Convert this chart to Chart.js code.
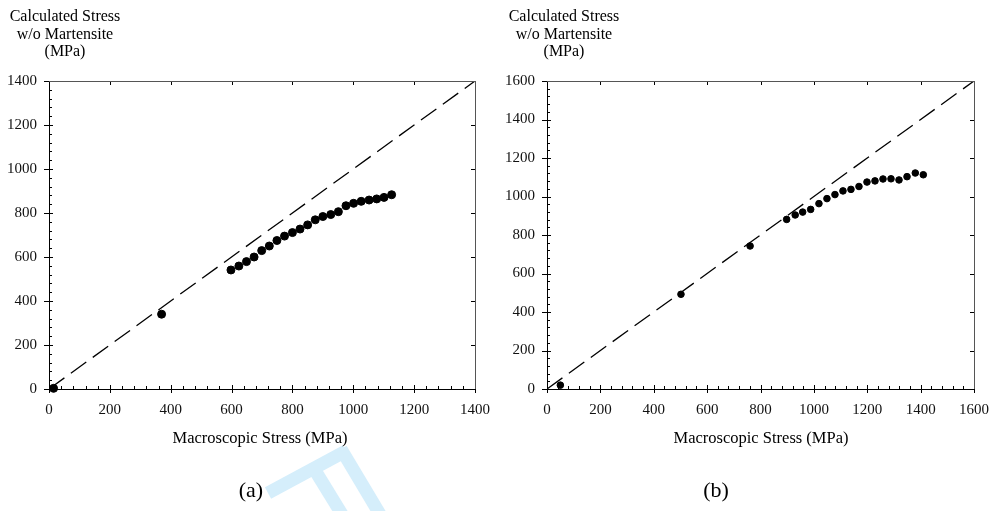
<!DOCTYPE html>
<html>
<head>
<meta charset="utf-8">
<script src="https://cdn.jsdelivr.net/npm/chart.js@4/dist/chart.umd.min.js"></script>
<style>
  body { margin: 0; background: #fff; }
  #wrap { position: relative; width: 989px; height: 511px; overflow: hidden; font-family: 'Liberation Serif', 'Times New Roman', serif; color: #000; }
  canvas { position: absolute; top: 0; }
  .ytitle { position: absolute; top: 7px; width: 130px; text-align: center; font-size: 16px; line-height: 17.5px; }
  .xtitle { position: absolute; top: 428px; width: 240px; text-align: center; font-size: 16.5px; }
  .panel { position: absolute; top: 477px; width: 60px; text-align: center; font-size: 22px; }
  #mark { position: absolute; left: 0; top: 0; }
</style>
</head>
<body>
<div id="wrap">
  <svg id="mark" width="989" height="511">
    <g stroke="#d5eefb" stroke-width="13" fill="none">
      <line x1="268" y1="493" x2="346" y2="451" />
      <line x1="341" y1="449" x2="381" y2="516" />
      <line x1="316" y1="472" x2="343" y2="516" />
    </g>
  </svg>
  <canvas id="chartA" width="494" height="511" style="left:0"></canvas>
  <canvas id="chartB" width="495" height="511" style="left:494px"></canvas>
  <div class="ytitle" style="left:0">Calculated Stress<br>w/o Martensite<br>(MPa)</div>
  <div class="ytitle" style="left:499px">Calculated Stress<br>w/o Martensite<br>(MPa)</div>
  <div class="xtitle" style="left:140px">Macroscopic Stress (MPa)</div>
  <div class="xtitle" style="left:641px">Macroscopic Stress (MPa)</div>
  <div class="panel" style="left:221px">(a)</div>
  <div class="panel" style="left:686px">(b)</div>
</div>
<script>
// panel (a)
const macroA = [15, 370, 598, 624, 649, 674, 699, 724, 749, 774, 800, 825, 850, 875, 900, 926, 951, 976, 1001, 1026, 1052, 1077, 1101, 1126];
const calcA  = [3, 340, 541, 559, 579, 600, 629, 650, 675, 695, 711, 727, 746, 769, 784, 793, 806, 833, 844, 853, 859, 864, 871, 883];
const ticksA = [0, 200, 400, 600, 800, 1000, 1200, 1400];

// panel (b)
const macroB = [50, 502, 761, 898, 930, 958, 988, 1019, 1049, 1079, 1109, 1139, 1169, 1199, 1229, 1259, 1289, 1319, 1349, 1380, 1410];
const calcB  = [20, 492, 743, 881, 904, 919, 933, 963, 989, 1010, 1029, 1037, 1052, 1075, 1081, 1091, 1092, 1086, 1103, 1122, 1113];
const ticksB = [0, 200, 400, 600, 800, 1000, 1200, 1400, 1600];

const MINOR_STEP = 40;

// inward minor ticks, crossing major ticks on left/bottom, inward majors on top/right
const axisTicks = {
    id: 'axisTicks',
    afterDraw(chart) {
        const { ctx, chartArea: a, scales: { x, y } } = chart;
        const major = chart.options.plugins.axisTicks.major;
        ctx.save();
        ctx.strokeStyle = '#000';
        ctx.lineWidth = 1;
        ctx.beginPath();
        for (let v = x.min; v <= x.max; v += MINOR_STEP) {
            const px = Math.round(x.getPixelForValue(v)) + 0.5;
            if (major.includes(v)) {
                ctx.moveTo(px, a.bottom + 4);
                ctx.lineTo(px, a.bottom - 4);
                ctx.moveTo(px, a.top);
                ctx.lineTo(px, a.top + 4);
            } else {
                ctx.moveTo(px, a.bottom);
                ctx.lineTo(px, a.bottom - 3);
            }
        }
        for (let v = y.min; v <= y.max; v += MINOR_STEP) {
            const py = Math.round(y.getPixelForValue(v)) + 0.5;
            if (major.includes(v)) {
                ctx.moveTo(a.left - 5, py);
                ctx.lineTo(a.left + 4, py);
                ctx.moveTo(a.right, py);
                ctx.lineTo(a.right - 4, py);
            } else {
                ctx.moveTo(a.left, py);
                ctx.lineTo(a.left + 3, py);
            }
        }
        ctx.stroke();
        // top and right frame
        ctx.strokeStyle = '#555';
        ctx.beginPath();
        ctx.moveTo(a.left, Math.round(a.top) + 0.5);
        ctx.lineTo(a.right, Math.round(a.top) + 0.5);
        ctx.moveTo(Math.round(a.right) + 0.5, a.top);
        ctx.lineTo(Math.round(a.right) + 0.5, a.bottom);
        ctx.stroke();
        ctx.restore();
    }
};

function makeChart(id, xs, ys, ticks, yAxisWidth, rightPad, pointR) {
    const maxV = ticks[ticks.length - 1];
    const font = { family: "'Liberation Serif', 'Times New Roman', serif", size: 15 };
    const tickOpts = (pad) => ({ color: '#111', font: font, maxRotation: 0, padding: pad, callback: v => String(v) });
    const axis = (extra) => Object.assign({
        type: 'linear',
        min: 0,
        max: maxV,
        afterBuildTicks: s => { s.ticks = ticks.map(v => ({ value: v })); },
        grid: { display: false, drawTicks: false },
        border: { display: true, color: '#000', width: 1 }
    }, extra);

    return new Chart(document.getElementById(id), {
        type: 'scatter',
        data: {
            datasets: [
                {
                    data: xs.map((v, i) => ({ x: v, y: ys[i] })),
                    backgroundColor: '#000',
                    borderColor: '#000',
                    pointRadius: pointR,
                    pointHoverRadius: pointR,
                    clip: false
                },
                {
                    type: 'line',
                    data: [{ x: 0, y: 0 }, { x: maxV, y: maxV }],
                    borderColor: '#000',
                    borderWidth: 1.3,
                    borderDash: [19, 8],
                    pointRadius: 0,
                    fill: false
                }
            ]
        },
        options: {
            responsive: false,
            animation: false,
            events: [],
            layout: { padding: { left: 0, top: 81, right: rightPad, bottom: 0 } },
            plugins: { legend: { display: false }, tooltip: { enabled: false }, axisTicks: { major: ticks } },
            scales: {
                x: axis({
                    position: 'bottom',
                    afterFit: s => { s.height = 122; s.paddingLeft = 0; s.paddingRight = 0; },
                    ticks: tickOpts(12)
                }),
                y: axis({
                    position: 'left',
                    afterFit: s => { s.width = yAxisWidth; s.paddingTop = 0; s.paddingBottom = 0; },
                    ticks: tickOpts(12)
                })
            }
        },
        plugins: [axisTicks]
    });
}

makeChart('chartA', macroA, calcA, ticksA, 49, 19, 4);
makeChart('chartB', macroB, calcB, ticksB, 53, 15, 3.3);
</script>
</body>
</html>
